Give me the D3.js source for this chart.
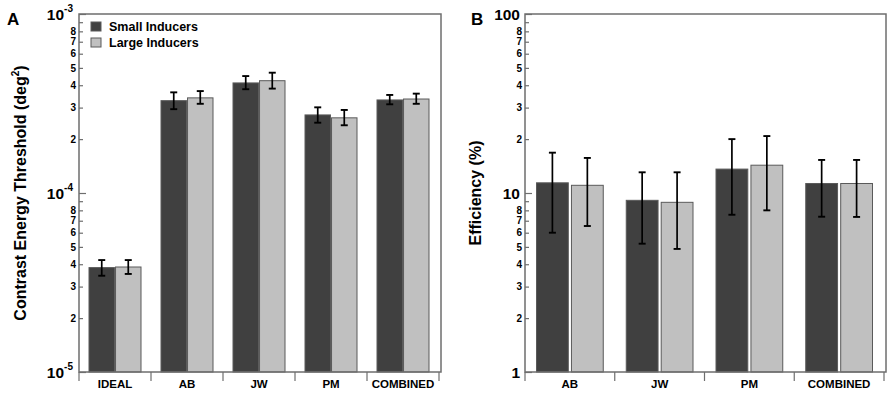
<!DOCTYPE html>
<html>
<head>
<meta charset="utf-8">
<script src="https://cdn.jsdelivr.net/npm/d3@7"></script>
<style>
  body { margin: 0; background: #fff; }
  svg text { font-family: "Liberation Sans", Arial, sans-serif; font-weight: bold; }
</style>
</head>
<body>
<svg id="chart" width="892" height="394"></svg>
<script>
// data
const series = ['Small Inducers', 'Large Inducers'];
const colors = ['#404040', '#c0c0c0'];

const groupsA = ['IDEAL', 'AB', 'JW', 'PM', 'COMBINED'];
const smallA = [3.83e-5, 3.28e-4, 4.12e-4, 2.73e-4, 3.31e-4];
const smallA_lo = [3.45e-5, 2.94e-4, 3.80e-4, 2.47e-4, 3.13e-4];
const smallA_hi = [4.22e-5, 3.65e-4, 4.50e-4, 3.01e-4, 3.53e-4];
const largeA = [3.86e-5, 3.40e-4, 4.24e-4, 2.63e-4, 3.35e-4];
const largeA_lo = [3.53e-5, 3.15e-4, 3.83e-4, 2.39e-4, 3.15e-4];
const largeA_hi = [4.22e-5, 3.71e-4, 4.70e-4, 2.91e-4, 3.59e-4];

const groupsB = ['AB', 'JW', 'PM', 'COMBINED'];
const smallB = [11.4, 9.1, 13.6, 11.3];
const smallB_lo = [6.0, 5.21, 7.56, 7.37];
const smallB_hi = [16.8, 13.05, 20.0, 15.3];
const largeB = [11.04, 8.87, 14.3, 11.3];
const largeB_lo = [6.54, 4.87, 8.0, 7.35];
const largeB_hi = [15.7, 13.05, 20.8, 15.3];

const svg = d3.select('#chart');

function rows(groups, s, sLo, sHi, l, lLo, lHi) {
  const out = [];
  groups.forEach((g, i) => {
    out.push({ g, k: series[0], v: s[i], lo: sLo[i], hi: sHi[i] });
    out.push({ g, k: series[1], v: l[i], lo: lLo[i], hi: lHi[i] });
  });
  return out;
}

function panel(opt) {
  const { left, right, top, bottom, domain, groups, data, inner, gap } = opt;
  const g = svg.append('g');

  const y = d3.scaleLog().domain(domain).range([bottom, top]);
  const x0 = d3.scaleBand().domain(groups).range([left, right]);
  const bw = x0.bandwidth();
  const x1 = d3.scaleBand().domain(series).range([inner, bw - inner]).paddingInner(gap);

  // bars
  g.selectAll('rect.bar')
    .data(data)
    .enter()
    .append('rect')
    .attr('class', 'bar')
    .attr('x', d => x0(d.g) + x1(d.k))
    .attr('width', x1.bandwidth())
    .attr('y', d => y(d.v))
    .attr('height', d => bottom - y(d.v))
    .attr('fill', d => colors[series.indexOf(d.k)])
    .attr('stroke', '#5a5a5a')
    .attr('stroke-width', 1);

  // error bars
  const eb = g.selectAll('g.err').data(data).enter().append('g').attr('class', 'err');
  const cx = d => x0(d.g) + x1(d.k) + x1.bandwidth() / 2;
  eb.append('line')
    .attr('x1', cx).attr('x2', cx)
    .attr('y1', d => y(d.lo)).attr('y2', d => y(d.hi))
    .attr('stroke', '#000').attr('stroke-width', 1.7);
  ['lo', 'hi'].forEach((key) => {
    eb.append('line')
      .attr('x1', d => cx(d) - 3.5).attr('x2', d => cx(d) + 3.5)
      .attr('y1', d => y(d[key])).attr('y2', d => y(d[key]))
      .attr('stroke', '#000').attr('stroke-width', 1.9);
  });

  // frame
  g.append('rect')
    .attr('x', left).attr('y', top)
    .attr('width', right + 2 - left).attr('height', bottom - top)
    .attr('fill', 'none').attr('stroke', '#6e6e6e').attr('stroke-width', 1.5);

  // y axis, ticks pointing inward
  const isMajor = v => Math.abs(Math.log10(v) - Math.round(Math.log10(v))) < 1e-6;
  const lead = v => Math.round(v / Math.pow(10, Math.floor(Math.log10(v) + 1e-9)));
  const yAxis = g.append('g')
    .attr('transform', `translate(${left},0)`)
    .call(d3.axisLeft(y).tickSize(-4).tickPadding(3)
      .tickFormat(v => (isMajor(v) || lead(v) === 9 ? '' : lead(v))));
  yAxis.select('.domain').remove();
  yAxis.selectAll('.tick line')
    .attr('stroke', '#6e6e6e').attr('stroke-width', 1.2)
    .attr('x2', v => (isMajor(v) ? 7 : 4));
  yAxis.selectAll('.tick text').attr('font-size', 10).attr('fill', '#000');

  // major labels
  const majors = y.ticks().filter(isMajor);
  majors.forEach((v) => {
    const e = Math.round(Math.log10(v));
    const t = g.append('text')
      .attr('y', y(v) + 5.5)
      .attr('font-size', 15.5)
      .attr('text-anchor', 'end')
      .attr('x', opt.pow ? left - 6 : left - 5);
    if (opt.pow) {
      t.append('tspan').text('10');
      t.append('tspan').attr('dy', -8).attr('font-size', 10).text(e);
    } else {
      t.text(v);
    }
  });

  // x axis separators and labels
  const sep = groups.map(d => x0(d)).concat([right]);
  g.selectAll('line.sep').data(sep).enter().append('line')
    .attr('x1', d => d).attr('x2', d => d)
    .attr('y1', bottom).attr('y2', bottom + 9)
    .attr('stroke', '#6e6e6e').attr('stroke-width', 1.2);
  const xAxis = g.append('g')
    .attr('transform', `translate(0,${bottom})`)
    .call(d3.axisBottom(x0).tickSize(0).tickPadding(8));
  xAxis.select('.domain').remove();
  xAxis.selectAll('.tick text').attr('font-size', 11.5).attr('fill', '#000');

  // y title
  const ty = g.append('text')
    .attr('transform', `translate(${opt.titleX},${(top + bottom) / 2}) rotate(-90)`)
    .attr('text-anchor', 'middle')
    .attr('font-size', 16)
    .text(opt.title);
  if (opt.titleSup) {
    ty.append('tspan').attr('dy', -7).attr('font-size', 10).text(opt.titleSup);
    ty.append('tspan').attr('dy', 7).text(')');
  }

  // panel letter
  g.append('text').attr('x', opt.letterX).attr('y', 25).attr('font-size', 17).text(opt.letter);
  return g;
}

const gA = panel({
  left: 79, right: 439, top: 14, bottom: 372,
  domain: [1e-5, 1e-3], groups: groupsA,
  data: rows(groupsA, smallA, smallA_lo, smallA_hi, largeA, largeA_lo, largeA_hi),
  inner: 10, gap: 0.04, pow: true,
  title: 'Contrast Energy Threshold (deg', titleSup: '2', titleX: 26,
  letter: 'A', letterX: 7,
});

panel({
  left: 525, right: 884, top: 14, bottom: 372,
  domain: [1, 100], groups: groupsB,
  data: rows(groupsB, smallB, smallB_lo, smallB_hi, largeB, largeB_lo, largeB_hi),
  inner: 11.5, gap: 0.09, pow: false,
  title: 'Efficiency (%)', titleX: 481,
  letter: 'B', letterX: 471,
});

// legend in panel A
const legend = gA.append('g').attr('transform', 'translate(91,22)');
series.forEach((s, i) => {
  const row = legend.append('g').attr('transform', `translate(0,${i * 16})`);
  row.append('rect').attr('width', 10).attr('height', 9)
    .attr('fill', colors[i]).attr('stroke', '#5a5a5a');
  row.append('text').attr('x', 18).attr('y', 9).attr('font-size', 12.5).text(s);
});
</script>
</body>
</html>
